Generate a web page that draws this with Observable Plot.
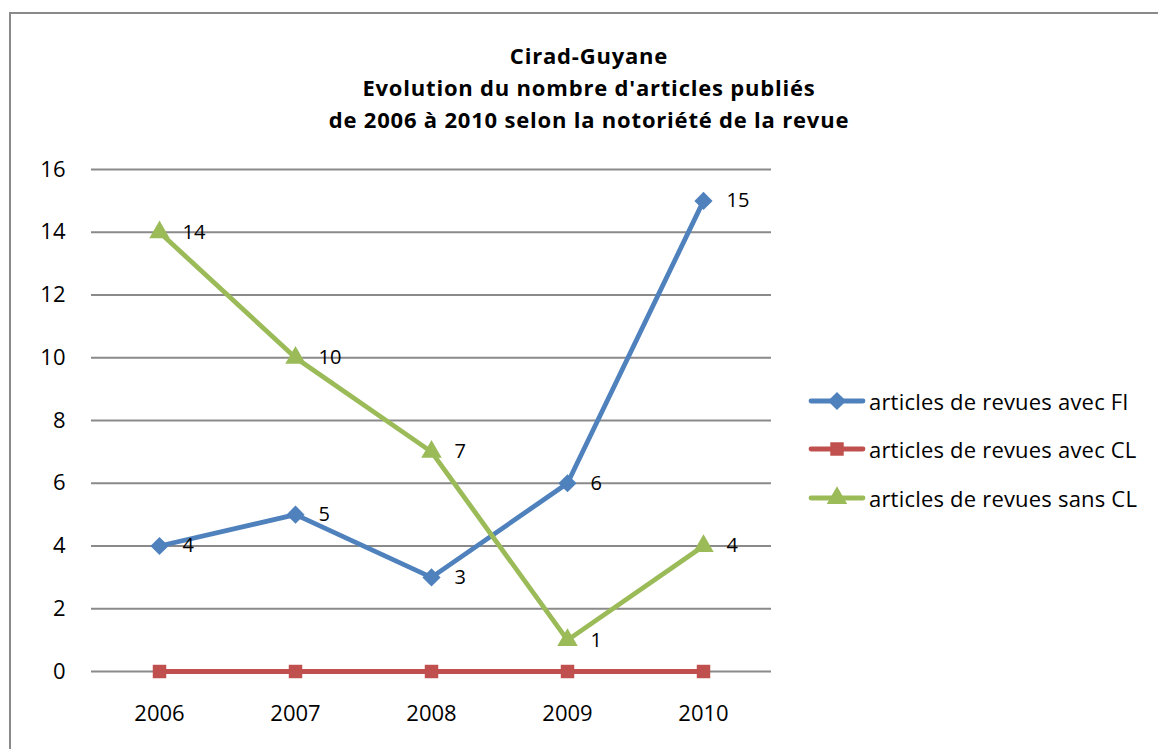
<!DOCTYPE html>
<html>
<head>
<meta charset="utf-8">
<script src="https://cdn.jsdelivr.net/npm/d3@7"></script>
<script src="https://cdn.jsdelivr.net/npm/@observablehq/plot@0.6"></script>
<style>
  html, body { margin: 0; padding: 0; background: #fff; width: 1158px; height: 749px; overflow: hidden; position: relative; font-family: "Open Sans", Lato, sans-serif; }
  #frame { position: absolute; left: 9px; top: 12px; width: 1200px; height: 800px; border: 2px solid #8a8a8a; box-sizing: border-box; }
  #chart { position: absolute; left: 0; top: 0; }
  #title { position: absolute; left: 239px; width: 700px; top: 39px; text-align: center; font-weight: bold; font-size: 22px; letter-spacing: 0.8px; line-height: 32px; color: #000; }
  #legend { position: absolute; left: 808px; top: 0; }
  .row { position: absolute; left: 0; display: flex; align-items: center; white-space: nowrap; font-size: 22px; letter-spacing: 0.2px; color: #000; }
  .row svg { margin-right: 3px; }
</style>
</head>
<body>
<div id="frame"></div>
<div id="chart"></div>
<div id="title">Cirad-Guyane<br>Evolution du nombre d'articles publiés<br>de 2006 à 2010 selon la notoriété de la revue</div>
<div id="legend"></div>
<script>
const years = ["2006", "2007", "2008", "2009", "2010"];
const seriesNames = ["articles de revues avec FI", "articles de revues avec CL", "articles de revues sans CL"];
const valuesFI = [4, 5, 3, 6, 15];
const valuesCL = [0, 0, 0, 0, 0];
const valuesSansCL = [14, 10, 7, 1, 4];
const yTicks = [0, 2, 4, 6, 8, 10, 12, 14, 16];
const colors = ["#4F81BD", "#C0504D", "#9BBB59"];
const symbols = ["diamond2", "square", "triangle"];
const radii = [8.2, 7.6, 7.6];
const labeled = [true, false, true];

const allValues = [valuesFI, valuesCL, valuesSansCL];
const rows = (vals) => years.map((y, i) => ({year: y, value: vals[i]}));

const marks = [
  Plot.ruleY(yTicks, {stroke: "#8a8a8a", strokeWidth: 2})
];
allValues.forEach((vals, s) => {
  const data = rows(vals);
  marks.push(Plot.line(data, {x: "year", y: "value", stroke: colors[s], strokeWidth: 4.8, strokeLinejoin: "round", strokeLinecap: "round"}));
  marks.push(Plot.dot(data, {x: "year", y: "value", symbol: () => symbols[s], r: radii[s], fill: colors[s], stroke: "none"}));
  if (labeled[s]) {
    marks.push(Plot.text(data, {x: "year", y: "value", text: d => String(d.value), dx: 23, textAnchor: "start", fontSize: 20, fill: "#000"}));
  }
});

const chart = Plot.plot({
  width: 1158,
  height: 749,
  marginLeft: 91,
  marginRight: 387,
  marginTop: 169,
  marginBottom: 78,
  style: {fontFamily: "'Open Sans', Lato, sans-serif", fontSize: "22px", color: "#000", background: "transparent", overflow: "visible"},
  x: {type: "point", domain: years, padding: 0.5, tickSize: 0, tickPadding: 34, label: null},
  y: {domain: [0, 16], ticks: yTicks, tickSize: 0, tickPadding: 26, label: null, tickFormat: d => String(d)},
  symbol: {type: "identity"},
  marks
});
document.getElementById("chart").appendChild(chart);

// Legend
const legend = d3.select("#legend");
const rowY = [400, 448, 497];
seriesNames.forEach((name, s) => {
  const row = legend.append("div").attr("class", "row").style("top", (rowY[s] - 14) + "px");
  const svg = row.append("svg").attr("width", 58).attr("height", 28);
  svg.append("line").attr("x1", 3).attr("x2", 55).attr("y1", 14).attr("y2", 14)
    .attr("stroke", colors[s]).attr("stroke-width", 4.8).attr("stroke-linecap", "round");
  const sym = [d3.symbolDiamond2, d3.symbolSquare, d3.symbolTriangle][s];
  svg.append("path").attr("transform", "translate(29,14)")
    .attr("d", d3.symbol(sym, Math.PI * radii[s] * radii[s])())
    .attr("fill", colors[s]);
  row.append("span").text(name);
});
</script>
</body>
</html>
